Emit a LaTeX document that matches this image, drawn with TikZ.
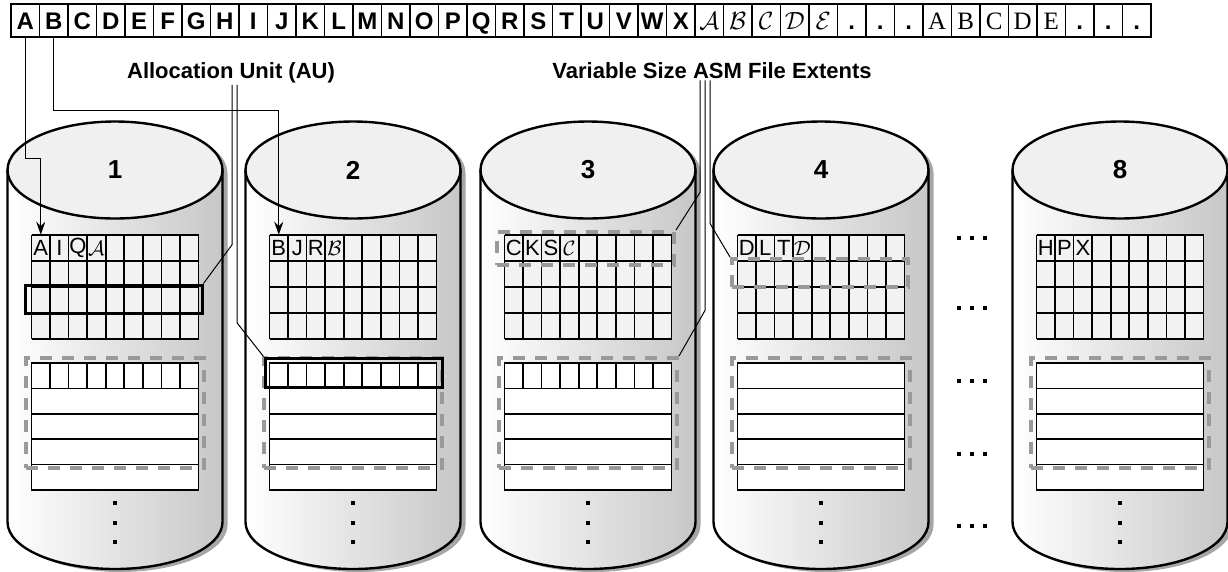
\documentclass[tikz,border=0pt]{standalone}
\usepackage{fontspec}
\setsansfont{Liberation Sans}
\newfontfamily\antiqua{Liberation Serif}
\usetikzlibrary{arrows.meta,positioning}
\newcommand{\fsz}[1]{\fontsize{#1}{#1}\selectfont}
\tikzset{
  disk/.style={draw=black, line width=2.4pt},
  stripcell/.style={draw, line width=1.4pt, minimum width=28.5pt, minimum height=33pt,
    inner sep=0pt, text height=17pt, text depth=0pt, font=\sffamily\bfseries\fsz{24}},
  slot/.style={inner sep=0pt, minimum width=18.55pt, minimum height=26pt, font=\sffamily\fsz{22}},
  cellrule/.style={line width=1.6pt},
  extent/.style={draw=black!40, line width=4pt, dash pattern=on 12pt off 10pt, inner sep=0pt},
  aubox/.style={draw=black, line width=3pt, inner sep=0pt},
  leader/.style={line width=1pt},
  feed/.style={line width=1.3pt, -{Stealth[length=13pt,width=9pt]}},
  caption/.style={font=\sffamily\bfseries\fsz{22}, anchor=base, inner sep=2pt},
}
\begin{document}
\begin{tikzpicture}[x=1pt, y=-1pt]
  \useasboundingbox (0,0) rectangle (1228,571);
  % file extent strip
  \foreach \ch [count=\i from 0] in {A,...,X}
    \node[stripcell] (s\ch) at ({25.25+\i*28.5},20.5) {\ch};
  \foreach \ch [count=\i from 24] in {A,...,E}
    \node[stripcell, font=\fsz{27}] (sc\ch) at ({25.25+\i*28.5},20.5) {$\mathcal{\ch}$};
  \foreach \i in {29,30,31,37,38,39}
    \node[stripcell] (sd\i) at ({25.25+\i*28.5},20.5) {.};
  \foreach \ch [count=\i from 32] in {A,...,E}
    \node[stripcell, font=\antiqua\fsz{25}] (sr\ch) at ({25.25+\i*28.5},20.5) {\ch};
  % disks
  \foreach \dk/\xc/\lets in {1/115/{A,I,Q,$\mathcal{A}$}, 2/353/{B,J,R,$\mathcal{B}$},
      3/588/{C,K,S,$\mathcal{C}$}, 4/821/{D,L,T,$\mathcal{D}$}, 8/1120/{H,P,X}}{
    \pgfmathsetmacro\xl{\xc-107.5}
    \pgfmathsetmacro\xr{\xc+107.5}
    \pgfmathsetmacro\gx{\xc-83.5}
    \fill[black!35, xshift=5pt, yshift=-3pt] (\xl,170)
      arc[start angle=180, end angle=0, x radius=107.5pt, y radius=48.5pt] -- (\xr,522)
      arc[start angle=0, end angle=-180, x radius=107.5pt, y radius=47pt] -- cycle;
    \shade[left color=white, middle color=black!4, right color=black!22] (\xl,170) -- (\xl,522)
      arc[start angle=180, end angle=360, x radius=107.5pt, y radius=47pt] -- (\xr,170) -- cycle;
    \draw[disk] (\xl,170) -- (\xl,522)
      arc[start angle=180, end angle=360, x radius=107.5pt, y radius=47pt] -- (\xr,170);
    \draw[disk, fill=black!6] (\xc,170) ellipse [x radius=107.5pt, y radius=48.5pt];
    \node[font=\sffamily\bfseries\fsz{26}] (n\dk) at (\xc,170) {\dk};
    % allocation units
    \fill[black!5] (\gx,235) rectangle ++(167,104);
    \foreach \col in {0,...,9} \draw[cellrule] ({\gx+\col*18.5556},235) -- ++(0,104);
    \foreach \row in {0,...,4} \draw[cellrule] (\gx,{235+\row*26}) -- ++(167,0);
    \foreach \txt [count=\j] in \lets
      \node[slot] (d\dk c\j) at ({\gx+(\j-0.5)*18.5556},248) {\txt};
    \draw[cellrule, fill=white] (\gx,363) rectangle ++(167,127);
    \foreach \row in {1,...,4} \draw[cellrule] (\gx,{363+\row*25.4}) -- ++(167,0);
    \ifnum\dk<4
      \foreach \col in {1,...,8} \draw[cellrule] ({\gx+\col*18.5556},363) -- ++(0,25.4);
    \fi
    \foreach \y in {503,523,542} \fill (\xc-2,\y-2) rectangle ++(4,4);
    \node[extent, minimum width=178pt, minimum height=110pt] (lo\dk) at (\xc,413) {};
  }
  % more disks
  \foreach \y in {238,308,381,454,526}
    \foreach \x in {959,972,985} \fill (\x-2,\y-2) rectangle ++(4,4);
  % highlighted units and extents
  \node[aubox, minimum width=177pt, minimum height=28pt] (au1) at (113.5,299) {};
  \node[aubox, minimum width=177pt, minimum height=29pt] (au2) at (353.5,372.5) {};
  \node[extent, minimum width=177pt, minimum height=33pt] (up3) at (585.5,248.5) {};
  \node[extent, minimum width=176pt, minimum height=28pt] (up4) at (820,273) {};
  % captions
  \node[caption] (lblAU) at (231,78) {Allocation Unit (AU)};
  \node[caption] (lblVar) at (712,78) {Variable Size ASM File Extents};
  \draw[leader] ([xshift=1pt]lblAU.south) -- ++(0,160) -- (au1.north east);
  \draw[leader] ([xshift=6pt]lblAU.south) -- ++(0,238) -- (au2.north west);
  \draw[leader] ([xshift=-12pt]lblVar.south) -- ++(0,112) -- (up3.north east);
  \draw[leader] ([xshift=-7pt]lblVar.south) -- ++(0,230) -- (lo3.north east);
  \draw[leader] ([xshift=-2pt]lblVar.south) -- ++(0,143) -- (up4.north west);
  % striping
  \draw[feed] (sA.south) -- ++(0,121) -| (d1c1.north);
  \draw[feed] (sB.south) -- ++(0,73) -| (d2c1.north);
\end{tikzpicture}
\end{document}
